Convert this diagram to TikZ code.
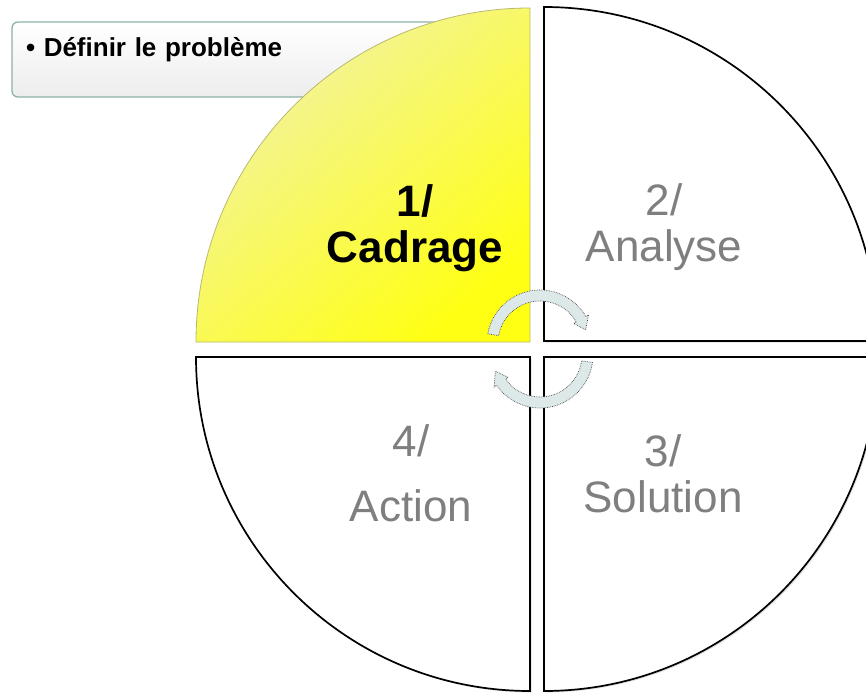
\documentclass[tikz,border=0pt]{standalone}
\usepackage{fontspec}
\setmainfont{Liberation Sans}
\usetikzlibrary{arrows.meta,positioning,shadows}
\definecolor{cycleYellow}{HTML}{FFFF14}
\definecolor{cyclePale}{HTML}{F2F2A8}
\definecolor{cycleEdge}{HTML}{B9B970}
\definecolor{cycleGrey}{HTML}{7F7F7F}
\definecolor{cycleArrow}{HTML}{DDE9E9}
\definecolor{noteLine}{HTML}{8DB3A6}

\begin{document}
\begin{tikzpicture}[x=1pt,y=1pt]
\tikzstyle{quadrant}=[draw=black,line width=1.7pt,fill=white,drop shadow={opacity=.25,shadow xshift=1.5pt,shadow yshift=-1.5pt}]
\tikzstyle{phasetxt}=[align=center,font=\fontsize{44}{46}\selectfont,text=cycleGrey]
\tikzstyle{notebox}=[draw=noteLine,line width=1.3pt,rounded corners=6pt,top color=white,bottom color=black!7,
  minimum width=438pt,minimum height=75pt,text width=410pt,inner xsep=14pt,inner ysep=6pt,
  text height=29pt,text depth=34pt,align=left,font=\bfseries\fontsize{26}{32}\selectfont]
\useasboundingbox (0,0) rectangle (866,694);
\clip (0,0) rectangle (866,694);

% note behind the first quarter
\node[notebox] (note) at (231,634.5) {\textbullet~Définir le problème};

% the four quarters
\shade[top color=cyclePale,bottom color=cycleYellow,shading angle=40,draw=cycleEdge,line width=.8pt]
  (530,352) -- (196,352) arc[start angle=180,end angle=90,radius=334] -- cycle;
\draw[quadrant] (544,353) -- (544,687) arc[start angle=90,end angle=0,radius=334] -- cycle;
\draw[quadrant] (544,337) -- (878,337) arc[start angle=0,end angle=-90,radius=334] -- cycle;
\draw[quadrant] (530,337) -- (530,3) arc[start angle=-90,end angle=-180,radius=334] -- cycle;

\node[phasetxt,text=black,font=\bfseries\fontsize{44}{46}\selectfont] (cadrage) at (415,465.5) {1/\\Cadrage};
\node[phasetxt] (analyse) at (664,467) {2/\\Analyse};
\node[phasetxt] (solution) at (663,220) {3/\\Solution};
\node[phasetxt] (action) at (411,220.5) {4/\\[19pt]Action};

% turning arrows in the middle
\foreach \cy/\a/\b/\t in {351/170/30/16,339/-8/-145/-160}{
  \begin{scope}[shift={(540,\cy)}]
  \filldraw[fill=cycleArrow,draw=black!70,densely dotted,line width=.7pt]
    (\a:53) arc[start angle=\a,end angle=\b,radius=53] -- (\b:56) -- (\t:47.5) -- (\b:39) -- (\b:42)
    arc[start angle=\b,end angle=\a,radius=42] -- cycle;
  \end{scope}
}
\end{tikzpicture}
\end{document}
